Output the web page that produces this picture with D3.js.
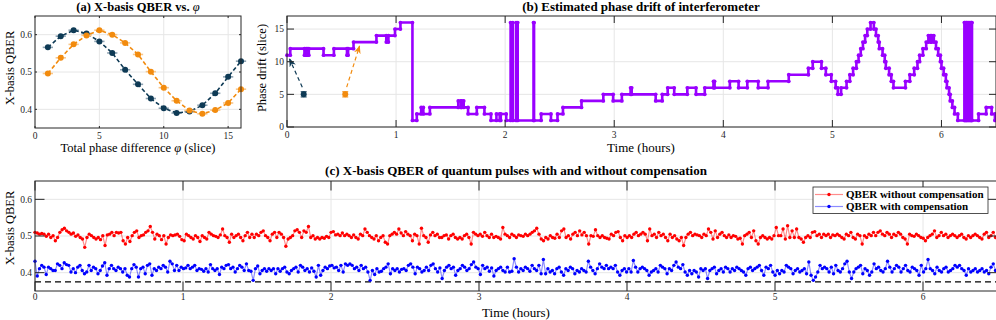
<!DOCTYPE html>
<html>
<head>
<meta charset="utf-8">
<script src="https://cdn.jsdelivr.net/npm/d3@7/dist/d3.min.js"></script>
<style>
  body { margin: 0; background: #fff; }
  svg { display: block; font-family: "Liberation Serif", "DejaVu Serif", serif; }
</style>
</head>
<body>
<svg width="996" height="320"></svg>
<script>
// ---- (a) X-basis QBER vs phase difference ----
const phaseSlice = [1, 2, 3, 4, 5, 6, 7, 8, 9, 10, 11, 12, 13, 14, 15, 16];
const qberNavy = [0.566, 0.596, 0.612, 0.603, 0.582, 0.551, 0.506, 0.467, 0.429, 0.403, 0.390, 0.394, 0.411, 0.443, 0.487, 0.529];
const qberOrange = [0.496, 0.538, 0.574, 0.598, 0.612, 0.600, 0.578, 0.547, 0.501, 0.458, 0.423, 0.397, 0.388, 0.398, 0.417, 0.454];
const phaseErr = [0.4, 0.4, 0.4, 0.4, 0.4, 0.4, 0.4, 0.4, 0.4, 0.4, 0.4, 0.4, 0.4, 0.4, 0.4, 0.4];

// ---- (b) estimated phase drift: [time (h), slice] at each change ----
const driftSteps = [
  [0, 11], [0.03, 12], [0.16, 11], [0.175, 12], [0.185, 11], [0.20, 12], [0.335, 11], [0.43, 12],
  [0.55, 11], [0.56, 12], [0.61, 13], [0.82, 14], [0.91, 13], [0.93, 14], [0.99, 15], [1.04, 16],
  [1.15, 1], [1.19, 2], [1.23, 3], [1.25, 2], [1.31, 3], [1.57, 4], [1.595, 3], [1.60, 4], [1.62, 3],
  [1.66, 2], [1.74, 3], [1.81, 2], [1.87, 1], [1.92, 2], [1.95, 1], [1.96, 2], [2.01, 1],
  [2.05, 16], [2.07, 1], [2.10, 16], [2.115, 1], [2.26, 16], [2.265, 1], [2.33, 2], [2.42, 1],
  [2.48, 2], [2.53, 3], [2.70, 4], [2.90, 5], [2.99, 4], [3.07, 5], [3.15, 6], [3.16, 5], [3.38, 4],
  [3.44, 5], [3.49, 6], [3.55, 5], [3.67, 6], [3.75, 5], [3.83, 6], [3.91, 7], [3.92, 6], [4.06, 7],
  [4.14, 6], [4.22, 7], [4.32, 6], [4.41, 7], [4.60, 8], [4.78, 9], [4.82, 10], [4.90, 9], [4.94, 8],
  [4.99, 7], [5.03, 6], [5.05, 5], [5.08, 6], [5.13, 7], [5.16, 8], [5.19, 9], [5.22, 10], [5.24, 11],
  [5.26, 12], [5.28, 13], [5.30, 14], [5.32, 15], [5.35, 16], [5.38, 15], [5.40, 14], [5.42, 13],
  [5.43, 12], [5.46, 11], [5.48, 10], [5.49, 9], [5.52, 8], [5.54, 7], [5.56, 6], [5.67, 7], [5.71, 8],
  [5.75, 9], [5.78, 10], [5.80, 11], [5.83, 12], [5.86, 13], [5.88, 14], [5.90, 13], [5.91, 14],
  [5.93, 13], [5.95, 12], [5.97, 11], [5.99, 10], [6.00, 9], [6.02, 8], [6.04, 7], [6.05, 6], [6.07, 5],
  [6.08, 4], [6.10, 3], [6.12, 2], [6.15, 1], [6.21, 16], [6.215, 1], [6.225, 16], [6.23, 1],
  [6.24, 16], [6.25, 1], [6.26, 16], [6.27, 1], [6.275, 16], [6.28, 1], [6.34, 2], [6.41, 3],
  [6.46, 2], [6.49, 1]
];
// phase estimates marked on (b): [time, slice, error, arrow-to time, arrow-to slice]
const navyMark = [0.153, 5, 0.4, 0.024, 10.4];
const orangeMark = [0.534, 5, 0.4, 0.665, 12.4];

// ---- (c) X-basis QBER over time (values x1000, evenly sampled) ----
const runHours = 6.49;
const qberNoComp = [
  510,508,505,507,505,499,505,496,501,487,496,510,517,521,514,510,505,508,499,503,496,492,469,496,505,501,496,492,496,490,501,474,503,505,510,501,510,508,510,487,478,496,485,501,510,514,496,501,503,510,514,526,510,492,505,501,490,501,478,496,503,501,503,505,499,490,487,505,501,496,492,501,496,485,501,496,492,510,505,501,499,496,503,519,501,496,483,505,496,501,505,496,487,501,510,496,505,496,505,501,510,514,501,496,487,505,
  510,496,510,505,496,472,492,496,501,514,517,510,496,514,510,526,496,501,492,496,492,496,494,499,496,510,512,503,505,501,508,501,505,501,496,503,496,492,505,501,519,510,501,496,492,501,487,496,501,483,478,501,505,510,505,519,508,501,512,505,501,487,505,501,478,521,501,496,483,503,510,501,505,496,496,501,503,492,501,505,496,492,496,492,501,505,496,478,510,505,501,505,499,510,501,496,505,496,499,496,492,523,505,501,496,505,
  501,496,503,501,499,505,501,505,510,514,521,505,492,487,496,492,501,496,494,505,496,514,519,496,501,492,505,510,501,514,503,510,501,478,501,499,517,501,496,501,496,494,492,505,501,510,512,496,487,501,496,501,496,505,510,501,505,510,505,487,519,501,505,496,510,501,505,496,487,505,496,501,492,487,496,474,496,505,510,501,505,503,501,496,505,501,519,510,492,514,496,505,510,501,496,503,496,501,499,492,494,478,501,505,510,496,514,
  487,478,496,501,496,492,496,492,501,523,501,501,519,492,528,496,514,496,519,496,492,483,496,501,496,510,512,501,505,496,505,501,505,496,503,501,505,501,496,492,505,501,510,496,492,505,501,478,501,496,505,501,510,501,510,514,505,501,510,505,496,505,501,510,505,496,492,478,505,501,499,505,501,496,494,487,496,501,505,514,496,501,510,501,505,496,501,505,501,496,501,505,496,492,501,496,501,505,501,496,492,505,510,496,501,510,496
];
const qberComp = [
  431,391,411,420,415,395,415,411,406,406,424,420,411,427,422,420,402,411,400,415,420,406,397,402,420,406,415,411,397,406,418,427,393,411,420,411,406,415,411,402,411,393,388,411,422,415,388,411,415,397,420,424,393,411,406,415,411,420,415,402,431,424,406,420,406,415,411,413,420,411,415,420,406,411,409,404,411,402,422,411,406,411,395,415,411,420,422,411,415,402,411,420,415,406,424,406,404,379,411,418,397,406,411,404,411,406,411,397,
  411,404,411,415,402,397,406,411,415,402,420,415,406,411,402,413,404,388,420,393,406,415,411,418,420,413,415,406,420,402,424,420,424,420,411,415,406,420,411,415,402,379,406,395,411,402,404,411,415,424,397,411,406,411,402,409,411,406,420,424,415,397,415,411,402,406,415,406,420,424,411,402,413,384,406,415,420,411,415,393,406,411,420,415,406,411,422,429,415,411,395,420,411,415,404,413,391,406,411,415,406,402,415,402,404,438,
  415,402,411,406,415,411,404,420,411,406,420,397,436,397,411,402,406,397,411,415,402,393,411,406,415,411,397,406,402,411,406,402,431,415,406,397,411,424,415,411,420,411,415,411,420,402,393,406,411,402,411,402,433,415,402,411,415,411,406,393,402,406,411,402,420,415,411,397,411,406,420,429,415,411,422,402,393,406,397,406,402,388,411,406,411,384,406,411,415,397,406,411,402,415,411,402,411,406,415,411,406,402,393,411,415,406,411,
  415,420,406,393,415,411,420,402,393,406,397,406,402,420,415,411,397,406,411,402,406,411,397,429,393,379,388,402,420,411,415,411,402,415,397,420,406,402,411,424,431,402,384,402,411,415,420,397,411,406,393,402,424,411,415,406,402,411,431,415,402,411,420,415,402,411,420,406,402,415,411,406,393,420,402,411,436,411,406,397,415,406,402,411,415,402,406,411,420,415,420,411,406,393,411,402,406,411,402,406,411,402,406,397,415,424,406
];
const qberThreshold = 0.375;
const legendLabels = ["QBER without compensation", "QBER with compensation"];

const NAVY = "#0e3a55", ORANGE = "#f28b0e", PURPLE = "#9900ff", RED = "#ff0000", BLUE = "#0000ff";
const AX = "#262626", GRID = "#e6e6e6";

const svg = d3.select("svg");
const defs = svg.append("defs");
[["arrNavy", NAVY], ["arrOrange", ORANGE]].forEach(([id, c]) => {
  defs.append("marker").attr("id", id).attr("viewBox", "0 0 10 10").attr("refX", 9).attr("refY", 5)
    .attr("markerWidth", 7).attr("markerHeight", 7).attr("orient", "auto")
    .append("path").attr("d", "M0,1L10,5L0,9L3,5Z").attr("fill", c);
});

// grid lines under the data
function grid(x, y, xt, yt) {
  const g = svg.append("g").attr("stroke", GRID).attr("stroke-width", 1);
  const [xa, xb] = x.range(), [ya, yb] = y.range();
  xt.forEach(d => g.append("line").attr("x1", x(d)).attr("x2", x(d)).attr("y1", ya).attr("y2", yb));
  yt.forEach(d => g.append("line").attr("x1", xa).attr("x2", xb).attr("y1", y(d)).attr("y2", y(d)));
}

// box, inner ticks and tick labels
function frame(x, y, xt, yt, tl, fy, dx) {
  const g = svg.append("g");
  const [xa, xb] = x.range(), [ya, yb] = y.range();
  g.append("rect").attr("x", xa).attr("y", yb).attr("width", xb - xa).attr("height", ya - yb)
    .attr("fill", "none").attr("stroke", AX).attr("stroke-width", 1);
  xt.forEach(d => {
    g.append("line").attr("x1", x(d)).attr("x2", x(d)).attr("y1", ya).attr("y2", ya - tl).attr("stroke", AX);
    g.append("line").attr("x1", x(d)).attr("x2", x(d)).attr("y1", yb).attr("y2", yb + tl).attr("stroke", AX);
    g.append("text").attr("x", x(d)).attr("y", ya + dx).attr("text-anchor", "middle")
      .attr("font-size", 9.5).attr("fill", AX).text(d);
  });
  yt.forEach(d => {
    g.append("line").attr("x1", xa).attr("x2", xa + tl).attr("y1", y(d)).attr("y2", y(d)).attr("stroke", AX);
    g.append("line").attr("x1", xb).attr("x2", xb - tl).attr("y1", y(d)).attr("y2", y(d)).attr("stroke", AX);
    g.append("text").attr("x", xa - 3).attr("y", y(d) + 3.3).attr("text-anchor", "end")
      .attr("font-size", 9.5).attr("fill", AX).text(fy(d));
  });
}

function label(txt, x, y, size, opts = {}) {
  const t = svg.append("text").attr("x", x).attr("y", y).attr("text-anchor", "middle")
    .attr("font-size", size).attr("fill", "#000");
  if (opts.bold) t.attr("font-weight", "bold");
  if (opts.rot) t.attr("transform", `rotate(-90,${x},${y})`);
  return t.text(txt);
}

// ================= (a) =================
{
  const x = d3.scaleLinear().domain([0, 16]).range([35, 241]);
  const y = d3.scaleLinear().domain([0.35, 0.65]).range([128, 16]);
  const xt = [0, 5, 10, 15], yt = [0.4, 0.5, 0.6];
  grid(x, y, xt, yt);
  [[qberNavy, NAVY, "#8ea3b2"], [qberOrange, ORANGE, "#f8c689"]].forEach(([vals, c, ce]) => {
    const pts = phaseSlice.map((p, i) => [p, vals[i], phaseErr[i]]);
    svg.append("g").selectAll("line").data(pts).enter().append("line")
      .attr("x1", d => x(d[0] - d[2])).attr("x2", d => x(d[0] + d[2]))
      .attr("y1", d => y(d[1])).attr("y2", d => y(d[1]))
      .attr("stroke", ce).attr("stroke-width", 1.6);
    svg.append("path").datum(pts)
      .attr("d", d3.line().x(d => x(d[0])).y(d => y(d[1])))
      .attr("fill", "none").attr("stroke", c).attr("stroke-width", 1.6).attr("stroke-dasharray", "4,2.5");
    svg.append("g").selectAll("circle").data(pts).enter().append("circle")
      .attr("cx", d => x(d[0])).attr("cy", d => y(d[1])).attr("r", 3).attr("fill", c);
  });
  frame(x, y, xt, yt, 2, d3.format(".1f"), 10.5);
  const tA = label("", 138, 11, 12.5, { bold: true });
  tA.append("tspan").text("(a) X-basis QBER vs. ");
  tA.append("tspan").attr("font-style", "italic").attr("font-weight", "normal").text("φ");
  const xl = label("", 138, 152, 12.5);
  xl.append("tspan").text("Total phase difference ");
  xl.append("tspan").attr("font-style", "italic").text("φ");
  xl.append("tspan").text(" (slice)");
  label("X-basis QBER", 14, 68, 12.5, { rot: true });
}

// ================= (b) =================
{
  const x = d3.scaleLinear().domain([0, 6.5]).range([287, 996]);
  const y = d3.scaleLinear().domain([0, 17]).range([127, 16]);
  const xt = [0, 1, 2, 3, 4, 5, 6], yt = [0, 5, 10, 15];
  grid(x, y, xt, yt);
  svg.append("path").datum(driftSteps)
    .attr("d", d3.line().curve(d3.curveStepAfter).x(d => x(d[0])).y(d => y(d[1])))
    .attr("fill", "none").attr("stroke", PURPLE).attr("stroke-width", 2.6).attr("stroke-linejoin", "round");
  const dots = [];
  driftSteps.forEach((d, i) => {
    dots.push(d);
    if (i + 1 < driftSteps.length) dots.push([driftSteps[i + 1][0], d[1]]);
  });
  svg.append("g").selectAll("circle").data(dots).enter().append("circle")
    .attr("cx", d => x(d[0])).attr("cy", d => y(d[1])).attr("r", 1.9).attr("fill", PURPLE);
  [[navyMark, NAVY, "arrNavy"], [orangeMark, ORANGE, "arrOrange"]].forEach(([m, c, mk]) => {
    const g = svg.append("g").attr("stroke", c);
    g.append("line").attr("x1", x(m[0])).attr("x2", x(m[0])).attr("y1", y(m[1] - m[2])).attr("y2", y(m[1] + m[2]));
    [m[1] - m[2], m[1] + m[2]].forEach(v => g.append("line").attr("x1", x(m[0]) - 3).attr("x2", x(m[0]) + 3)
      .attr("y1", y(v)).attr("y2", y(v)));
    g.append("circle").attr("cx", x(m[0])).attr("cy", y(m[1])).attr("r", 3).attr("fill", c).attr("stroke", "none");
    g.append("line").attr("x1", x(m[0] + (m[3] - m[0]) * 0.1)).attr("y1", y(m[1] + 1.1))
      .attr("x2", x(m[3])).attr("y2", y(m[4]))
      .attr("stroke-width", 1.2).attr("stroke-dasharray", "4,3").attr("marker-end", `url(#${mk})`);
  });
  frame(x, y, xt, yt, 7, d3.format("d"), 11);
  label("(b) Estimated phase drift of interferometer", 641, 11, 13, { bold: true });
  label("Time (hours)", 641, 152, 13);
  label("Phase drift (slice)", 266, 68, 12.5, { rot: true });
}

// ================= (c) =================
{
  const x = d3.scaleLinear().domain([0, 6.5]).range([35, 997]);
  const y = d3.scaleLinear().domain([0.35, 0.65]).range([291, 181]);
  const xt = [0, 1, 2, 3, 4, 5, 6], yt = [0.4, 0.5, 0.6];
  grid(x, y, xt, yt);
  svg.append("line").attr("x1", x(0)).attr("x2", x(6.5)).attr("y1", y(qberThreshold)).attr("y2", y(qberThreshold))
    .attr("stroke", "#000").attr("stroke-width", 1.3).attr("stroke-dasharray", "6,4");
  [[qberNoComp, RED], [qberComp, BLUE]].forEach(([vals, c]) => {
    const dt = runHours / (vals.length - 1);
    const pts = vals.map((v, i) => [i * dt, v / 1000]);
    svg.append("path").datum(pts)
      .attr("d", d3.line().x(d => x(d[0])).y(d => y(d[1])))
      .attr("fill", "none").attr("stroke", c).attr("stroke-opacity", 0.45).attr("stroke-width", 1.2);
    svg.append("g").selectAll("circle").data(pts).enter().append("circle")
      .attr("cx", d => x(d[0])).attr("cy", d => y(d[1])).attr("r", 1.7).attr("fill", c);
  });
  frame(x, y, xt, yt, 9.5, d3.format(".1f"), 9);
  label("(c) X-basis QBER of quantum pulses with and without compensation", 516, 175, 13, { bold: true });
  label("Time (hours)", 516, 317, 13);
  label("X-basis QBER", 14, 228, 12.5, { rot: true });

  // legend
  const lg = svg.append("g");
  lg.append("rect").attr("x", 813).attr("y", 187).attr("width", 175).attr("height", 26.5)
    .attr("fill", "#fff").attr("stroke", AX).attr("stroke-width", 0.8);
  [[RED, 194.5], [BLUE, 206.5]].forEach(([c, yy], i) => {
    lg.append("line").attr("x1", 815).attr("x2", 843).attr("y1", yy).attr("y2", yy)
      .attr("stroke", c).attr("stroke-opacity", 0.45).attr("stroke-width", 1.2);
    lg.append("circle").attr("cx", 829).attr("cy", yy).attr("r", 1.7).attr("fill", c);
    lg.append("text").attr("x", 846).attr("y", yy + 3.5).attr("font-size", 11).attr("font-weight", "bold")
      .text(legendLabels[i]);
  });
}
</script>
</body>
</html>
